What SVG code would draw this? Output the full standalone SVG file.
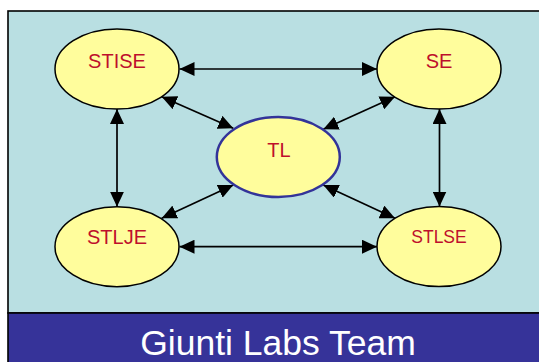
<svg xmlns="http://www.w3.org/2000/svg" width="539" height="362" viewBox="0 0 539 362">
  <style>
    .node { fill: #FFFD9C; stroke: #000; stroke-width: 1.5; }
    .hub { fill: #FFFD9C; stroke: #333399; stroke-width: 2.5; }
    .label { font-family: "Liberation Sans", Arial, sans-serif; fill: #BE0F2C; text-anchor: middle; }
    .link { stroke: #000; stroke-width: 1.7; fill: none; marker-start: url(#head); marker-end: url(#head); }
  </style>
  <defs>
    <marker id="head" viewBox="0 0 15 14" refX="15" refY="7" markerWidth="15" markerHeight="14" markerUnits="userSpaceOnUse" orient="auto-start-reverse">
      <path d="M0,0 L15,7 L0,14 Z" fill="#000"/>
    </marker>
  </defs>

  <!-- panel background and frame -->
  <rect x="0" y="0" width="539" height="362" fill="#FFFFFF"/>
  <rect x="8" y="11" width="540" height="302" fill="#B9DFE2" stroke="#000" stroke-width="1.6"/>
  <rect x="8" y="313" width="540" height="60" fill="#363399" stroke="#000" stroke-width="1.6"/>
  <text x="278" y="355" font-family="'Liberation Sans', Arial, sans-serif" font-size="35.5" fill="#FFFFFF" text-anchor="middle">Giunti Labs Team</text>

  <!-- connectors -->
  <g id="connectors">
    <line class="link" x1="179.5" y1="69" x2="377" y2="69"/>
    <line class="link" x1="179.5" y1="246.7" x2="377" y2="246.7"/>
    <line class="link" x1="117" y1="109" x2="117" y2="206.7"/>
    <line class="link" x1="439.5" y1="109" x2="439.5" y2="206.5"/>
    <line class="link" x1="161.7" y1="96.7" x2="233.3" y2="128.3"/>
    <line class="link" x1="395" y1="96.7" x2="323.3" y2="129.3"/>
    <line class="link" x1="161.7" y1="218.3" x2="233.3" y2="185"/>
    <line class="link" x1="395" y1="218.3" x2="323.3" y2="185"/>
  </g>

  <!-- nodes -->
  <g id="STISE">
    <ellipse class="node" cx="117" cy="69" rx="62" ry="40"/>
    <text class="label" x="117" y="67.5" font-size="20">STISE</text>
  </g>
  <g id="SE">
    <ellipse class="node" cx="439" cy="69" rx="62" ry="40"/>
    <text class="label" x="439" y="67.5" font-size="20">SE</text>
  </g>
  <g id="TL">
    <ellipse class="hub" cx="278.3" cy="157" rx="61.5" ry="40"/>
    <text class="label" x="279" y="156.5" font-size="20">TL</text>
  </g>
  <g id="STLJE">
    <ellipse class="node" cx="117" cy="246.7" rx="62" ry="40"/>
    <text class="label" x="117" y="244.3" font-size="20">STLJE</text>
  </g>
  <g id="STLSE">
    <ellipse class="node" cx="439" cy="246.5" rx="62" ry="40"/>
    <text class="label" x="439" y="242.7" font-size="17.5">STLSE</text>
  </g>
</svg>
